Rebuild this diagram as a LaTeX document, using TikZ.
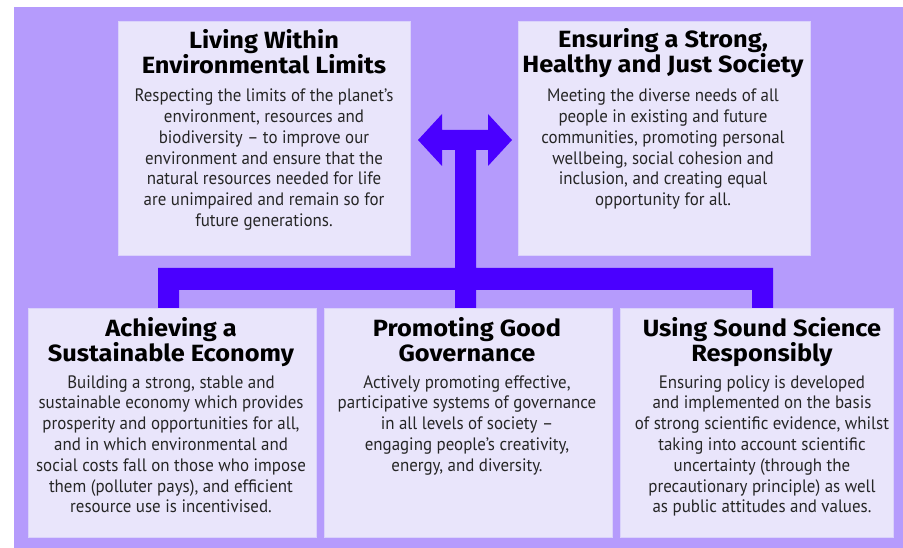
\documentclass[tikz,border=0pt]{standalone}
\usepackage{fontspec}
\newfontfamily\bodyfont{PT Sans}[FakeStretch=0.94]
\newfontfamily\titlefont{Fira Sans}[FakeStretch=1.08]
\definecolor{bgpurple}{HTML}{B59BFC}
\definecolor{boxfill}{HTML}{E9E5FB}
\definecolor{boxline}{HTML}{DAD2FB}
\definecolor{arrowc}{HTML}{4A00FF}
\definecolor{bodytext}{HTML}{262626}
\begin{document}
\begin{tikzpicture}[x=1pt,y=-1pt,
  panel/.style={fill=boxfill, draw=boxline, line width=0.8pt, anchor=north west, inner sep=0pt},
  ttl/.style={anchor=base, align=center, inner sep=0pt, font=\titlefont\bfseries\fontsize{23.5}{25}\selectfont},
  bdy/.style={anchor=base, align=center, inner sep=0pt, text=bodytext, font=\bodyfont\fontsize{18}{20.8}\selectfont}]
\useasboundingbox (0,0) rectangle (903,548);
\fill[bgpurple] (14,7) rectangle (903,548);

% panels
\node[panel, minimum width=292pt, minimum height=234pt] (tl) at (118,21) {};
\node[panel, minimum width=292pt, minimum height=234pt] (tr) at (518,21) {};
\node[panel, minimum width=288pt, minimum height=229pt] (bl) at (28,308) {};
\node[panel, minimum width=288pt, minimum height=229pt] (bm) at (324,308) {};
\node[panel, minimum width=273pt, minimum height=229pt] (br) at (620,308) {};

% connector shape
\coordinate (aL) at (418,140);
\coordinate (aR) at (512,140);
\fill[arrowc] (aL) -- (442,114) -- (442,130) -- (488,130) -- (488,114) -- (aR)
  -- (488,166) -- (488,150) -- (476,150) -- (476,268) -- (773,268) -- (773,308)
  -- (752,308) -- (752,290) -- (476,290) -- (476,308) -- (455,308) -- (455,290)
  -- (179,290) -- (179,308) -- (158,308) -- (158,268) -- (455,268) -- (455,150)
  -- (442,150) -- (442,166) -- cycle;

% texts (anchor = baseline of last line)
\node[ttl] (tlt) at (264,74) {Living Within\\Environmental Limits};
\node[bdy] (tlb) at (264,226.5) {Respecting the limits of the planet’s\\environment, resources and\\biodiversity – to improve our\\environment and ensure that the\\natural resources needed for life\\are unimpaired and remain so for\\future generations.};

\node[ttl] (trt) at (663,73) {Ensuring a Strong,\\Healthy and Just Society};
\node[bdy] (trb) at (663,205.7) {Meeting the diverse needs of all\\people in existing and future\\communities, promoting personal\\wellbeing, social cohesion and\\inclusion, and creating equal\\opportunity for all.};

\node[ttl] (blt) at (171,362) {Achieving a\\Sustainable Economy};
\node[bdy] (blb) at (171,512.8) {Building a strong, stable and\\sustainable economy which provides\\prosperity and opportunities for all,\\and in which environmental and\\social costs fall on those who impose\\them (polluter pays), and efficient\\resource use is incentivised.};

\node[ttl] (bmt) at (467,362) {Promoting Good\\Governance};
\node[bdy] (bmb) at (467,471.2) {Actively promoting effective,\\participative systems of governance\\in all levels of society –\\engaging people’s creativity,\\energy, and diversity.};

\node[ttl] (brt) at (762,362) {Using Sound Science\\Responsibly};
\node[bdy] (brb) at (762,512.8) {Ensuring policy is developed\\and implemented on the basis\\of strong scientific evidence, whilst\\taking into account scientific\\uncertainty (through the\\precautionary principle) as well\\as public attitudes and values.};
\end{tikzpicture}
\end{document}
